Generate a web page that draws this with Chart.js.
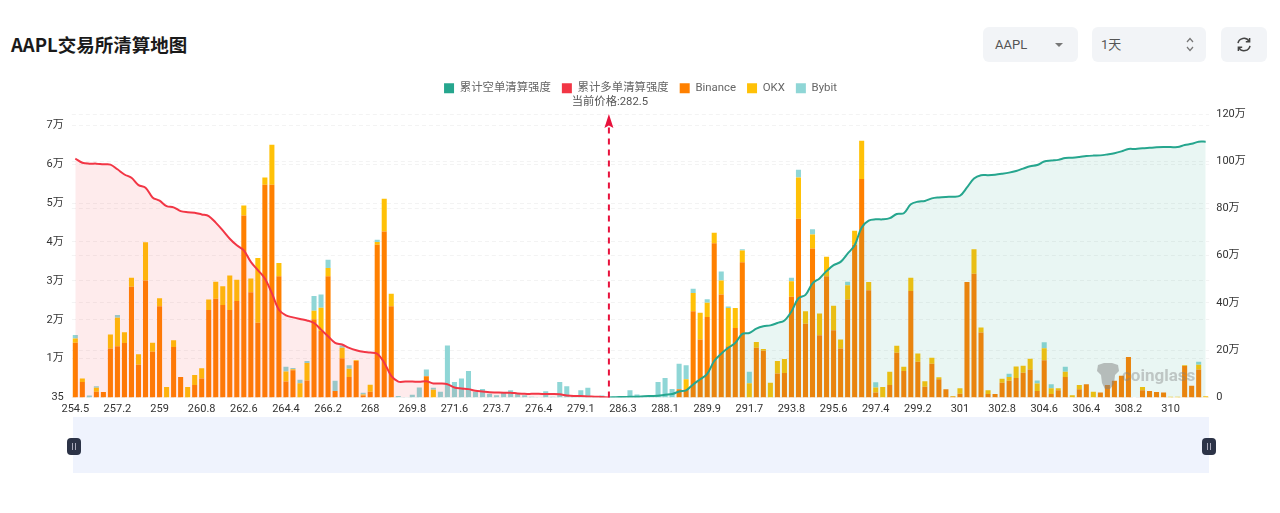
<!DOCTYPE html>
<html>
<head>
<meta charset="utf-8">
<title>AAPL交易所清算地图</title>
<script src="https://cdn.jsdelivr.net/npm/chart.js@4"></script>
<style>
    html, body { margin: 0; padding: 0; background: #fff; }
    body { width: 1280px; height: 513px; position: relative; overflow: hidden;
        font-family: Roboto, "Noto Sans CJK SC", sans-serif; }
    #wrap { position: absolute; left: 0; top: 0; width: 1280px; height: 513px; }
    .title { position: absolute; left: 11px; top: 32px; font-size: 18.5px; line-height: 24px;
        font-weight: 700; color: #1a1a1a; font-family: "Noto Sans CJK SC", sans-serif; }
    .ctl { position: absolute; top: 27px; height: 35px; background: #f2f4f7; border-radius: 6px;
        font-size: 13px; line-height: 35px; color: #555; box-sizing: border-box; }
    .ctl svg { position: absolute; }
    .zoombar { position: absolute; left: 73px; top: 417px; width: 1136px; height: 56px; background: #eff3fd; }
    .handle { position: absolute; top: 438px; width: 14px; height: 17px; background: #2c3347; border-radius: 4px; }
    .handle::after { content: ""; position: absolute; left: 5px; top: 5px; width: 1px; height: 7px;
        border-left: 1px solid #aab; border-right: 1px solid #aab; padding-right: 1px; }
    .mark { position: absolute; left: 1122px; top: 364px; font-size: 17px; line-height: 22px; font-weight: 700;
        color: rgba(130,130,130,0.42); pointer-events: none; }
    .markicon { position: absolute; left: 1096px; top: 362px; pointer-events: none; }
</style>
</head>
<body>
<div class="title">AAPL交易所清算地图</div>
<div class="ctl" style="left:983px;width:95px;padding-left:12px">AAPL
    <svg style="left:72px;top:16px" width="8" height="4"><path d="M0 0H8L4 4Z" fill="#777"/></svg>
</div>
<div class="ctl" style="left:1092px;width:114px;padding-left:9px">1天
    <svg style="left:94px;top:10px" width="8" height="15" fill="none" stroke="#777" stroke-width="1.2">
        <path d="M1 5L4 1.5L7 5M1 10L4 13.5L7 10"/></svg>
</div>
<div class="ctl" style="left:1221px;width:46px">
    <svg style="left:15px;top:10px" width="16" height="15" viewBox="0 0 16 15" fill="none" stroke="#444" stroke-width="1.5">
        <path d="M2 6.2A6 6 0 0 1 13 4.2M14 8.8A6 6 0 0 1 3 10.8"/>
        <path d="M13.6 1V4.8H9.8M2.4 14V10.2H6.2"/></svg>
</div>
<div id="wrap"><canvas id="liqChart" width="1280" height="513"></canvas></div>
<svg class="markicon" width="24" height="28" viewBox="0 0 24 28">
    <path d="M2 3L8 1L16 1L22 3L23 9L19 13L18 22L14 27L9 27L6 21L5 13L1 9Z" fill="rgba(130,130,130,0.5)"/>
</svg>
<div class="mark">coinglass</div>
<div class="zoombar"></div>
<div class="handle" style="left:67px"></div>
<div class="handle" style="left:1202px"></div>
<script>
var currentPrice = 282.5;

var prices = [
    254.5, 255, 255.4, 255.9, 256.3, 256.8,
    257.2, 257.5, 257.8, 258.1, 258.4, 258.7,
    259, 259.3, 259.6, 259.9, 260.2, 260.5,
    260.8, 261.1, 261.4, 261.7, 262, 262.3,
    262.6, 262.9, 263.2, 263.5, 263.8, 264.1,
    264.4, 264.7, 265, 265.3, 265.6, 265.9,
    266.2, 266.5, 266.8, 267.1, 267.4, 267.7,
    268, 268.3, 268.6, 268.9, 269.2, 269.5,
    269.8, 270.1, 270.4, 270.7, 271, 271.3,
    271.6, 272, 272.3, 272.7, 273, 273.4,
    273.7, 274.2, 274.6, 275.1, 275.5, 276,
    276.4, 276.9, 277.3, 277.8, 278.2, 278.7,
    279.1, 279.6, 280.1, 280.6, 282.5, 285.9,
    286.3, 286.6, 286.9, 287.2, 287.5, 287.8,
    288.1, 288.4, 288.7, 289, 289.3, 289.6,
    289.9, 290.2, 290.5, 290.8, 291.1, 291.4,
    291.7, 292.1, 292.4, 292.8, 293.1, 293.5,
    293.8, 294.1, 294.4, 294.7, 295, 295.3,
    295.6, 295.9, 296.2, 296.5, 296.8, 297.1,
    297.4, 297.7, 298, 298.3, 298.6, 298.9,
    299.2, 299.5, 299.8, 300.1, 300.4, 300.7,
    301, 301.3, 301.6, 301.9, 302.2, 302.5,
    302.8, 303.1, 303.4, 303.7, 304, 304.3,
    304.6, 304.9, 305.2, 305.5, 305.8, 306.1,
    306.4, 306.7, 307, 307.3, 307.6, 307.9,
    308.2, 308.5, 308.8, 309.1, 309.4, 309.7,
    310, 310.3, 310.6, 310.9, 311.2, 311.5
];

var binance = [
    14100, 4000, 0, 1500, 1450, 12600, 13200, 14000, 28500, 8400,
    30100, 11800, 23500, 0, 13000, 5300, 0, 3200, 4900, 22500,
    25400, 23800, 22500, 24800, 46800, 27100, 19200, 54700, 54700, 31200,
    4100, 7000, 0, 4400, 20100, 17100, 31200, 1700, 10100, 5300,
    9400, 500, 1500, 39300, 42700, 23500, 0, 0, 0, 0,
    5500, 0, 0, 0, 0, 0, 0, 0, 0, 0,
    0, 0, 0, 0, 0, 0, 0, 0, 0, 0,
    0, 0, 0, 0, 0, 0, 0, 0, 0, 0,
    0, 0, 0, 0, 0, 0, 2100, 2100, 22200, 14900,
    20700, 39700, 26500, 13200, 17900, 34800, 0, 12800, 12000, 0,
    6200, 6300, 25900, 46000, 19000, 38300, 16000, 31200, 17300, 12600,
    25200, 39300, 56200, 27600, 1300, 0, 3200, 11500, 6800, 27400,
    9200, 2800, 8700, 4700, 2100, 200, 1000, 29700, 31800, 16700,
    900, 900, 3800, 4300, 5000, 6400, 7200, 1700, 9600, 900,
    1900, 5300, 0, 2100, 3400, 0, 1300, 3200, 4300, 5600,
    10400, 0, 1900, 1700, 1400, 1300, 0, 0, 8100, 3000,
    7200, 0
];

var okx = [
    1100, 900, 0, 1000, 0, 3600, 7300, 2800, 2300, 2700,
    9800, 2300, 2000, 2700, 1700, 0, 2700, 2600, 2600, 2700,
    4400, 4800, 8900, 5500, 2600, 3500, 16700, 1900, 10300, 3400,
    2600, 300, 3700, 4500, 2200, 6000, 2100, 0, 2700, 2100,
    200, 300, 1800, 700, 8400, 3200, 0, 0, 0, 0,
    0, 2000, 0, 0, 0, 0, 0, 0, 0, 0,
    0, 0, 0, 0, 0, 0, 0, 0, 0, 0,
    0, 0, 0, 0, 0, 0, 0, 0, 0, 0,
    0, 0, 0, 0, 0, 0, 0, 2600, 4700, 6900,
    3700, 2700, 3600, 9800, 5100, 3000, 3700, 1500, 500, 3800,
    3200, 3600, 4000, 10600, 3200, 3600, 5600, 5000, 6300, 2300,
    3700, 3600, 9800, 2100, 1300, 2700, 3400, 1800, 1100, 3400,
    2100, 1400, 1500, 500, 0, 200, 1400, 0, 6300, 1300,
    1000, 0, 1000, 1000, 3000, 1800, 2800, 1900, 3100, 1500,
    500, 1300, 600, 1100, 0, 1500, 0, 0, 0, 0,
    0, 0, 800, 0, 0, 0, 200, 200, 200, 0,
    1200, 300
];

var bybit = [
    900, 0, 500, 400, 0, 0, 700, 0, 0, 0,
    0, 0, 0, 0, 0, 0, 0, 0, 0, 0,
    0, 0, 0, 0, 0, 0, 0, 0, 0, 0,
    1200, 300, 900, 500, 3800, 3400, 2100, 2600, 600, 900,
    0, 400, 0, 600, 0, 0, 400, 100, 700, 2600,
    1700, 500, 1500, 13400, 4000, 4900, 6800, 1500, 2200, 1000,
    600, 1200, 1900, 900, 600, 200, 100, 1600, 200, 4000,
    2900, 400, 1900, 2500, 200, 500, 0, 0, 100, 1900,
    800, 200, 200, 4000, 5000, 2200, 6600, 3600, 1100, 0,
    900, 0, 2300, 400, 0, 300, 2900, 0, 0, 0,
    0, 0, 900, 2000, 0, 1400, 0, 0, 0, 0,
    900, 0, 0, 0, 1300, 0, 0, 0, 0, 0,
    0, 0, 0, 0, 0, 0, 0, 0, 0, 0,
    0, 0, 0, 800, 0, 0, 0, 800, 1500, 1000,
    0, 1300, 0, 0, 0, 0, 0, 0, 0, 0,
    0, 0, 0, 0, 0, 0, 0, 0, 0, 0,
    800, 0
];

// cumulative strength, in 万, from the far left down to the current price
var longLiq = [
    101.1, 99.4, 99, 99, 98.7, 98.6, 96.6, 94.4, 93, 89.9,
    88.8, 84.7, 83.3, 81, 80.5, 78.9, 78.4, 78.2, 77.5, 76.8,
    74, 70.7, 67.2, 64.4, 62.3, 57.4, 53.9, 50.4, 44.1, 37.1,
    34.7, 33.9, 33.2, 32.6, 31.5, 28.7, 25.9, 23.1, 22.4, 21,
    20, 19.3, 19, 18.5, 14.7, 9.1, 6.7, 6.7, 6.7, 6.6,
    6.8, 5.9, 5.9, 5.6, 4.2, 3.8, 3.5, 2.8, 2.5, 2.2,
    2.1, 2, 2, 1.7, 1.5, 1.5, 1.5, 1.4, 1.4, 1.3,
    0.85, 0.6, 0.55, 0.4, 0.3, 0.15, 0
];

// cumulative strength, in 万, from the current price out to the far right
var shortLiq = [
    0, 0.1, 0.15, 0.3, 0.3, 0.5, 0.6, 0.7, 1.1, 1.4,
    2.5, 3, 5.5, 7.7, 10, 15.4, 18.5, 21, 23.1, 26.9,
    27.3, 29.1, 30.1, 30.5, 31.5, 32.6, 36.4, 42, 43.4, 48.3,
    50.4, 53.5, 56, 57.4, 60.9, 64.4, 72, 74.9, 75.4, 75.4,
    75.9, 77.7, 78, 81.8, 82.9, 83.2, 84.3, 84.7, 84.9, 85,
    85.4, 88.9, 92.7, 94.1, 94.1, 94.3, 94.7, 95.2, 95.9, 96.9,
    97.9, 98.4, 99.9, 100.3, 100.6, 101.4, 101.5, 101.8, 102.2, 102.4,
    102.5, 102.9, 103.4, 104.2, 105.2, 105.2, 105.5, 105.7, 105.9, 106,
    106, 106, 106.9, 107.4, 108.3, 108.3
];

var leftTicks = [35, 10000, 20000, 30000, 40000, 50000, 60000, 70000];
var rightTicks = [0, 20, 40, 60, 80, 100, 120];
var seriesNames = ['累计空单清算强度', '累计多单清算强度', 'Binance', 'OKX', 'Bybit'];
var seriesColors = ['#26a68e', '#f23645', '#ff8000', '#ffc107', '#8fd6d6'];

var priceIndex = prices.indexOf(currentPrice);
var axisFont = {family: 'Roboto, "Noto Sans CJK SC", sans-serif', size: 11};
var legendFont = {family: 'Roboto, "Noto Sans CJK SC", sans-serif', size: 11.4};
var gridStyle = {color: '#f3f3f3', drawTicks: false};

// dashed arrow and caption marking the current price
var priceMarker = {
    id: 'priceMarker',
    afterDatasetsDraw: function (chart) {
        var ctx = chart.ctx;
        var x = chart.scales.x.getPixelForValue(priceIndex);
        var bottom = chart.chartArea.bottom;
        ctx.save();
        ctx.strokeStyle = '#e8123c';
        ctx.fillStyle = '#e8123c';
        ctx.lineWidth = 2;
        ctx.setLineDash([6, 5]);
        ctx.beginPath();
        ctx.moveTo(x, bottom);
        ctx.lineTo(x, 126);
        ctx.stroke();
        ctx.setLineDash([]);
        ctx.beginPath();
        ctx.moveTo(x, 114);
        ctx.lineTo(x + 4.5, 128);
        ctx.lineTo(x, 125.5);
        ctx.lineTo(x - 4.5, 128);
        ctx.closePath();
        ctx.fill();
        ctx.fillStyle = '#555';
        ctx.font = '11.3px Roboto, "Noto Sans CJK SC", sans-serif';
        ctx.textAlign = 'center';
        ctx.textBaseline = 'middle';
        ctx.fillText('当前价格:' + currentPrice, x + 1, 102.5);
        ctx.restore();
    }
};

var liqChart = new Chart(document.getElementById('liqChart').getContext('2d'), {
    data: {
        labels: prices,
        datasets: [
            {
                type: 'line', label: seriesNames[0], yAxisID: 'y2', order: 0,
                data: new Array(priceIndex).fill(null).concat(shortLiq),
                borderColor: seriesColors[0], borderWidth: 2, pointRadius: 0, tension: 0.35,
                fill: 'origin', backgroundColor: 'rgba(38,166,142,0.1)'
            },
            {
                type: 'line', label: seriesNames[1], yAxisID: 'y2', order: 0,
                data: longLiq,
                borderColor: seriesColors[1], borderWidth: 2, pointRadius: 0, tension: 0.35,
                fill: 'origin', backgroundColor: 'rgba(242,54,69,0.1)'
            },
            {type: 'bar', label: seriesNames[2], data: binance, backgroundColor: seriesColors[2], stack: 'liq', order: 1},
            {type: 'bar', label: seriesNames[3], data: okx, backgroundColor: seriesColors[3], stack: 'liq', order: 1},
            {type: 'bar', label: seriesNames[4], data: bybit, backgroundColor: seriesColors[4], stack: 'liq', order: 1}
        ]
    },
    options: {
        responsive: false,
        animation: false,
        layout: {padding: {left: 11.8, right: 10.8, top: 71.5, bottom: 95.6}},
        datasets: {bar: {barPercentage: 0.72, categoryPercentage: 1}},
        plugins: {
            legend: {
                position: 'top',
                labels: {
                    font: legendFont, color: '#666', boxWidth: 10, boxHeight: 10, padding: 11,
                    generateLabels: function () {
                        return seriesNames.map(function (name, i) {
                            return {text: name, fillStyle: seriesColors[i], strokeStyle: seriesColors[i],
                                lineWidth: 0, datasetIndex: i, fontColor: '#666'};
                        });
                    }
                }
            },
            tooltip: {enabled: false}
        },
        scales: {
            x: {
                stacked: true,
                afterFit: function (s) { s.height = 20; },
                grid: {display: false, drawTicks: false},
                border: {display: false},
                ticks: {
                    autoSkip: false, maxRotation: 0, font: axisFont, color: '#333', padding: 5,
                    callback: function (value, index) {
                        return index % 6 === 0 ? prices[index] : '';
                    }
                }
            },
            y: {
                stacked: true, min: 35, max: 75500, position: 'left',
                afterFit: function (s) { s.width = 60; },
                afterBuildTicks: function (s) {
                    s.ticks = leftTicks.map(function (v) { return {value: v}; });
                },
                grid: gridStyle,
                border: {display: false, dash: [4, 3]},
                ticks: {
                    font: axisFont, color: '#333', padding: 8,
                    callback: function (v) { return v < 10000 ? v : (v / 10000) + '万'; }
                }
            },
            y2: {
                min: 0, max: 124.3, position: 'right',
                afterFit: function (s) { s.width = 60; },
                afterBuildTicks: function (s) {
                    s.ticks = rightTicks.map(function (v) { return {value: v}; });
                },
                grid: gridStyle,
                border: {display: false, dash: [4, 3]},
                ticks: {
                    font: axisFont, color: '#333', padding: 7,
                    callback: function (v) { return v === 0 ? '0' : v + '万'; }
                }
            }
        }
    },
    plugins: [priceMarker]
});
</script>
</body>
</html>
